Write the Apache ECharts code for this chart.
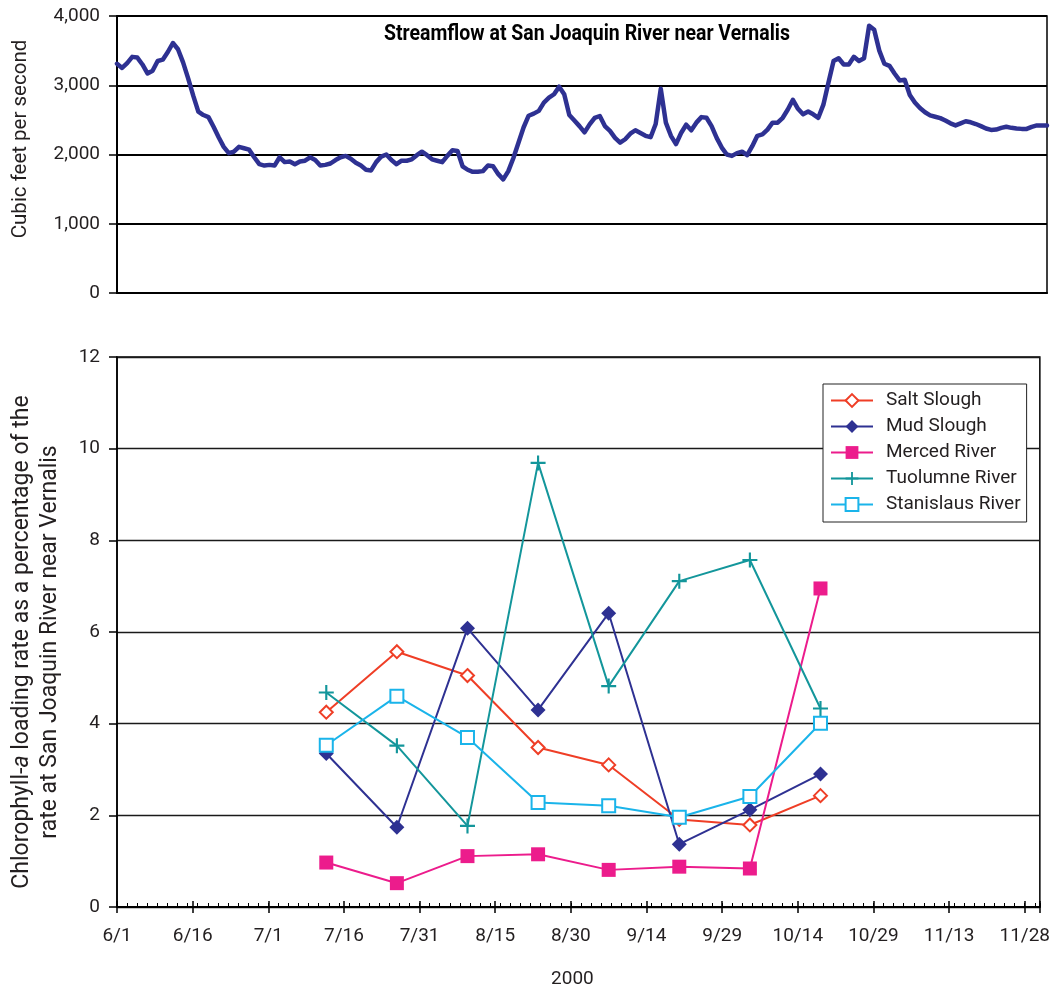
<!DOCTYPE html>
<html>
<head>
<meta charset="utf-8">
<title>Streamflow and chlorophyll-a loading, San Joaquin River, 2000</title>
<script src="https://cdn.jsdelivr.net/npm/echarts@6/dist/echarts.min.js"></script>
<style>
  html, body { margin: 0; padding: 0; background: #fff; }
  #chart { width: 1053px; height: 995px; }
</style>
</head>
<body>
<div id="chart"></div>
<script>
// Daily streamflow (cubic feet per second), San Joaquin River near Vernalis,
// starting June 1, 2000 (one value per day through December 1).
const flowStart = '2000-06-01';
const dailyFlow = [
  3310, 3250, 3320, 3410, 3400, 3300, 3170, 3210, 3350, 3370,
  3480, 3610, 3520, 3330, 3100, 2850, 2620, 2570, 2540, 2400,
  2250, 2110, 2020, 2040, 2110, 2090, 2070, 1960, 1860, 1840,
  1850, 1840, 1960, 1890, 1900, 1860, 1900, 1910, 1960, 1920,
  1840, 1850, 1870, 1920, 1960, 1980, 1940, 1880, 1840, 1780,
  1770, 1890, 1970, 2000, 1920, 1860, 1910, 1910, 1930, 1990,
  2040, 1990, 1930, 1910, 1890, 1980, 2060, 2050, 1830, 1780,
  1750, 1750, 1760, 1840, 1830, 1720, 1640, 1760, 1950, 2170,
  2390, 2560, 2590, 2630, 2750, 2820, 2870, 2980, 2870, 2570,
  2490, 2410, 2320, 2435, 2530, 2556, 2410, 2340, 2240, 2170,
  2220, 2300, 2350, 2310, 2270, 2250, 2440, 2950, 2460, 2270,
  2150, 2310, 2430, 2350, 2460, 2540, 2530, 2410, 2240, 2100,
  2000, 1980, 2020, 2040, 1990, 2120, 2270, 2290, 2360, 2460,
  2460, 2530, 2650, 2790, 2660, 2580, 2620, 2580, 2530, 2720,
  3040, 3350, 3390, 3300, 3300, 3410, 3350, 3390, 3860, 3800,
  3500, 3310, 3280, 3170, 3070, 3080, 2860, 2750, 2670, 2610,
  2565, 2545, 2525, 2490, 2450, 2420, 2450, 2480, 2465, 2440,
  2410, 2375, 2355, 2360, 2385, 2400, 2385, 2375, 2370, 2370,
  2400, 2420, 2420, 2420
];

// Sampling dates (samples taken around midday) and chlorophyll-a loading
// rates as a percentage of the rate at Vernalis.
const sampleDates = ['2000-07-12', '2000-07-26', '2000-08-09', '2000-08-23',
                     '2000-09-06', '2000-09-20', '2000-10-04', '2000-10-18'];
const sampleHour = 12;
const saltSlough      = [4.25, 5.57, 5.05, 3.48, 3.10, 1.91, 1.79, 2.43];
const mudSlough       = [3.35, 1.74, 6.08, 4.30, 6.41, 1.37, 2.12, 2.90];
const mercedRiver     = [0.97, 0.52, 1.11, 1.15, 0.81, 0.88, 0.84, 6.95];
const tuolumneRiver   = [4.68, 3.52, 1.77, 9.69, 4.82, 7.11, 7.57, 4.33];
const stanislausRiver = [3.53, 4.60, 3.70, 2.28, 2.21, 1.96, 2.41, 4.01];

// Axis extents: days after June 1, labelled every 15 days.
const axisDays = 183;
const labelEvery = 15;
const minorEvery = 2;
const flowTicks = [0, 1000, 2000, 3000, 4000];
const rateTicks = [0, 2, 4, 6, 8, 10, 12];

const DAY = 86400000;
const t0 = Date.parse(flowStart + 'T00:00:00Z');
function dayOf(dateStr, hour) {
  return (Date.parse(dateStr + 'T00:00:00Z') - t0) / DAY + (hour || 0) / 24;
}
function dayLabel(v) {
  if (Math.abs(v % labelEvery) > 1e-6) return '';
  const d = new Date(t0 + v * DAY);
  return (d.getUTCMonth() + 1) + '/' + d.getUTCDate();
}

const flowData = dailyFlow.map((q, i) => [i, q]);
const sampleDays = sampleDates.map(s => dayOf(s, sampleHour));
const pairs = vals => vals.map((v, i) => [sampleDays[i], v]);

const TEXT = '#231f20';
const FONT = 'Roboto, "Liberation Sans", sans-serif';
const PLUS = 'path://M6,0h2v6h6v2h-6v6h-2v-6h-6v-2h6z';

// The panel title is set in a condensed bold face: squeeze a regular bold
// face horizontally so that the line spans its 406 px column.
const TITLE = 'Streamflow at San Joaquin River near Vernalis';
const TITLE_FONT = 'bold 21.5px Roboto, "Liberation Sans", sans-serif';
const titleWidth = 406;
const measureCtx = document.createElement('canvas').getContext('2d');
measureCtx.font = TITLE_FONT;
const titleScale = titleWidth / measureCtx.measureText(TITLE).width;

const chart = echarts.init(document.getElementById('chart'), null, { renderer: 'canvas' });

const baseX = {
  type: 'value', min: 0, max: axisDays,
  splitLine: { show: false }
};

const option = {
  animation: false,
  backgroundColor: '#fff',
  textStyle: { fontFamily: FONT, color: TEXT },
  grid: [
    { left: 117, top: 16, right: 6, height: 277, show: true,
      borderColor: '#000', borderWidth: 1.5, backgroundColor: 'transparent' },
    { left: 117, top: 357, right: 6, height: 550, show: true,
      borderColor: '#000', borderWidth: 1.5, backgroundColor: 'transparent' }
  ],
  xAxis: [
    Object.assign({}, baseX, {
      gridIndex: 0, interval: labelEvery,
      axisLine: { lineStyle: { color: '#000', width: 2 } },
      axisTick: { show: false }, axisLabel: { show: false }
    }),
    Object.assign({}, baseX, {
      gridIndex: 1, interval: labelEvery,
      axisLine: { lineStyle: { color: '#000', width: 2 } },
      axisTick: { show: true, inside: false, length: 6, lineStyle: { color: '#000', width: 1.5 } },
      axisLabel: { formatter: dayLabel, fontSize: 19, color: TEXT, margin: 20, fontFamily: FONT },
      name: '2000', nameLocation: 'middle', nameGap: 63,
      nameTextStyle: { fontSize: 19, color: TEXT, fontFamily: FONT, padding: [0, 12, 0, 0] }
    }),
    Object.assign({}, baseX, {
      gridIndex: 1, interval: minorEvery, position: 'bottom',
      axisLine: { show: false },
      axisTick: { show: true, inside: true, length: 4, lineStyle: { color: '#000', width: 1 } },
      axisLabel: { show: false }
    }),
    Object.assign({}, baseX, {
      gridIndex: 1, interval: labelEvery, position: 'bottom',
      axisLine: { show: false },
      axisTick: { show: true, inside: true, length: 6, lineStyle: { color: '#000', width: 1.5 } },
      axisLabel: { show: false }
    })
  ],
  yAxis: [
    {
      type: 'value', gridIndex: 0,
      min: flowTicks[0], max: flowTicks[flowTicks.length - 1], interval: flowTicks[1] - flowTicks[0],
      axisLine: { show: true, lineStyle: { color: '#000', width: 2 } },
      axisTick: { show: true, length: 8, lineStyle: { color: '#000', width: 1.5 } },
      axisLabel: {
        fontSize: 19, color: TEXT, margin: 17, fontFamily: FONT,
        formatter: v => v.toLocaleString('en-US')
      },
      splitLine: { show: true, lineStyle: { color: '#000', width: 2 } }
    },
    {
      type: 'value', gridIndex: 1,
      min: rateTicks[0], max: rateTicks[rateTicks.length - 1], interval: rateTicks[1] - rateTicks[0],
      axisLine: { show: true, lineStyle: { color: '#000', width: 1.5 } },
      axisTick: { show: true, length: 8, lineStyle: { color: '#000', width: 1.5 } },
      axisLabel: { fontSize: 19, color: TEXT, margin: 17, fontFamily: FONT },
      splitLine: { show: true, lineStyle: { color: '#1a1a1a', width: 1.3 } }
    }
  ],
  legend: {
    orient: 'vertical', left: 823, top: 384,
    padding: [7, 6, 8, 7],
    itemWidth: 42, itemHeight: 16, itemGap: 7,
    borderColor: '#222', borderWidth: 1, backgroundColor: '#fff',
    textStyle: { fontSize: 19, color: TEXT, fontFamily: FONT, padding: [0, 0, 0, 8] },
    data: ['Salt Slough', 'Mud Slough', 'Merced River', 'Tuolumne River', 'Stanislaus River']
  },
  graphic: [
    {
      type: 'text', x: 587, y: 35, scaleX: titleScale,
      style: {
        text: TITLE, align: 'center', verticalAlign: 'middle',
        font: TITLE_FONT, fill: '#000'
      },
      z: 100
    },
    {
      type: 'text', x: 21, y: 139, rotation: Math.PI / 2,
      style: {
        text: 'Cubic feet per second', align: 'center', verticalAlign: 'middle',
        fontFamily: FONT, fontSize: 20.5, fill: TEXT
      }
    },
    {
      type: 'text', x: 36, y: 642, rotation: Math.PI / 2,
      style: {
        text: 'Chlorophyll-{i|a} loading rate as a percentage of the\nrate at San Joaquin River near Vernalis',
        align: 'center', verticalAlign: 'middle',
        fontFamily: FONT, fontSize: 23, fill: TEXT, lineHeight: 28,
        rich: {
          i: { fontFamily: FONT, fontSize: 23, fontStyle: 'italic', fill: TEXT, lineHeight: 28 }
        }
      }
    }
  ],
  series: [
    {
      name: 'Streamflow', type: 'line', xAxisIndex: 0, yAxisIndex: 0,
      data: flowData, showSymbol: false, symbol: 'none',
      lineStyle: { color: '#2e3192', width: 4.5, join: 'round', cap: 'round' },
      itemStyle: { color: '#2e3192' }, z: 3
    },
    {
      name: 'Salt Slough', type: 'line', xAxisIndex: 1, yAxisIndex: 1,
      data: pairs(saltSlough), symbol: 'emptyDiamond', symbolSize: 13,
      lineStyle: { color: '#ef3e26', width: 2 },
      itemStyle: { color: '#ef3e26', borderWidth: 2 }
    },
    {
      name: 'Mud Slough', type: 'line', xAxisIndex: 1, yAxisIndex: 1,
      data: pairs(mudSlough), symbol: 'diamond', symbolSize: 15,
      lineStyle: { color: '#2e3192', width: 2 },
      itemStyle: { color: '#2e3192' }
    },
    {
      name: 'Merced River', type: 'line', xAxisIndex: 1, yAxisIndex: 1,
      data: pairs(mercedRiver), symbol: 'rect', symbolSize: 14,
      lineStyle: { color: '#ec1c8c', width: 2 },
      itemStyle: { color: '#ec1c8c' }
    },
    {
      name: 'Tuolumne River', type: 'line', xAxisIndex: 1, yAxisIndex: 1,
      data: pairs(tuolumneRiver), symbol: PLUS, symbolSize: 15,
      lineStyle: { color: '#13969b', width: 2 },
      itemStyle: { color: '#13969b' }
    },
    {
      name: 'Stanislaus River', type: 'line', xAxisIndex: 1, yAxisIndex: 1,
      data: pairs(stanislausRiver), symbol: 'emptyRect', symbolSize: 13,
      lineStyle: { color: '#1ab4ea', width: 2 },
      itemStyle: { color: '#1ab4ea', borderWidth: 2 }
    }
  ]
};

chart.setOption(option);
</script>
</body>
</html>
